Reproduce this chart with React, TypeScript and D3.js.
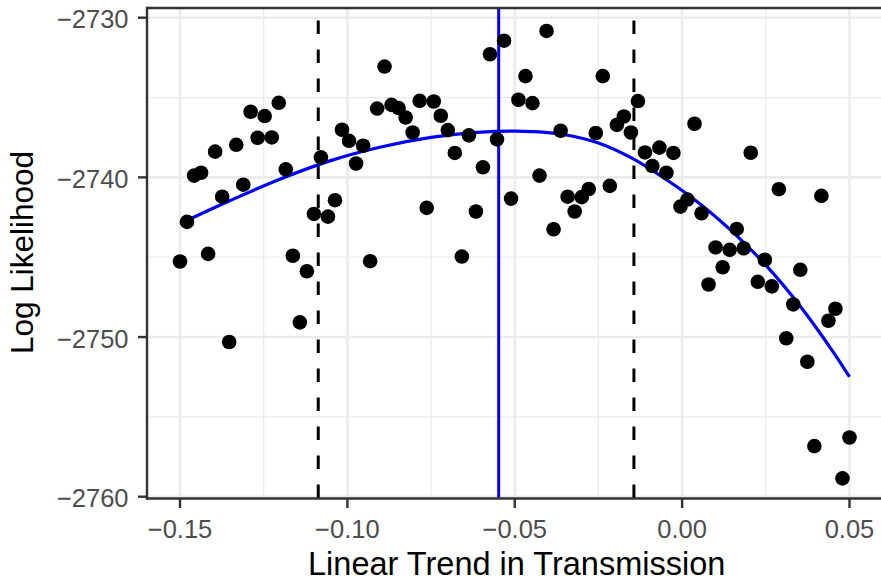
import React from "react";
import * as d3 from "d3";

const xTicks = [-0.15, -0.1, -0.05, 0, 0.05];
const xTickLabels = ["−0.15", "−0.10", "−0.05", "0.00", "0.05"];
const xMinor = [-0.175, -0.125, -0.075, -0.025, 0.025, 0.075];
const yTicks = [-2760, -2750, -2740, -2730];
const yTickLabels = ["−2760", "−2750", "−2740", "−2730"];
const yMinor = [-2755, -2745, -2735, -2725];

const trendX = [
  -0.15, -0.1479, -0.1458, -0.1437, -0.1416, -0.1395, -0.1374, -0.1353, -0.1332, -0.1311,
  -0.1289, -0.1268, -0.1247, -0.1226, -0.1205, -0.1184, -0.1163, -0.1142, -0.1121, -0.11,
  -0.1079, -0.1058, -0.1037, -0.1016, -0.0995, -0.0974, -0.0953, -0.0932, -0.0911, -0.0889,
  -0.0868, -0.0847, -0.0826, -0.0805, -0.0784, -0.0763, -0.0742, -0.0721, -0.07, -0.0679,
  -0.0658, -0.0637, -0.0616, -0.0595, -0.0574, -0.0553, -0.0532, -0.0511, -0.0489, -0.0468,
  -0.0447, -0.0426, -0.0405, -0.0384, -0.0363, -0.0342, -0.0321, -0.03, -0.0279, -0.0258,
  -0.0237, -0.0216, -0.0195, -0.0174, -0.0153, -0.0132, -0.0111, -0.0089, -0.0068, -0.0047,
  -0.0026, -0.0005, 0.0016, 0.0037, 0.0058, 0.0079, 0.01, 0.0121, 0.0142, 0.0163,
  0.0184, 0.0205, 0.0226, 0.0247, 0.0268, 0.0289, 0.0311, 0.0332, 0.0353, 0.0374,
  0.0395, 0.0416, 0.0437, 0.0458, 0.0479, 0.05,
];

const logLik = [
  -2745.27, -2742.79, -2739.89, -2739.71, -2744.79, -2738.39, -2741.21, -2750.31, -2737.96, -2740.46,
  -2735.89, -2737.52, -2736.16, -2737.5, -2735.33, -2739.5, -2744.91, -2749.08, -2745.88, -2742.29,
  -2738.75, -2742.46, -2741.43, -2737.02, -2737.71, -2739.13, -2738.02, -2745.25, -2735.69, -2733.06,
  -2735.46, -2735.66, -2736.25, -2737.19, -2735.21, -2741.91, -2735.25, -2736.14, -2737.04, -2738.47,
  -2744.96, -2737.37, -2742.14, -2739.37, -2732.29, -2737.62, -2731.44, -2741.33, -2735.14, -2733.66,
  -2735.35, -2739.89, -2730.83, -2743.25, -2737.08, -2741.21, -2742.14, -2741.24, -2740.73, -2737.22,
  -2733.66, -2740.53, -2736.71, -2736.19, -2737.19, -2735.22, -2738.44, -2739.29, -2738.14, -2739.71,
  -2738.47, -2741.83, -2741.39, -2736.64, -2742.25, -2746.71, -2744.39, -2745.63, -2744.54, -2743.23,
  -2744.44, -2738.46, -2746.54, -2745.16, -2746.83, -2740.74, -2750.08, -2747.96, -2745.79, -2751.55,
  -2756.83, -2741.16, -2748.98, -2748.23, -2758.85, -2756.29,
];

const smoothX = [-0.15, -0.135, -0.12, -0.105, -0.09, -0.075, -0.06, -0.05, -0.045, -0.036, -0.025, -0.015, -0.005, 0.005, 0.015, 0.025, 0.035, 0.045, 0.05];
const smoothY = [-2742.9, -2741.45, -2740.1, -2738.95, -2738.1, -2737.5, -2737.17, -2737.1, -2737.13, -2737.3, -2737.85, -2738.8, -2740.1, -2741.6, -2743.4, -2745.5, -2748.0, -2750.9, -2752.5];

const ciBounds = [-0.1087, -0.0144];
const mleValue = -0.0548;

const W = 881;
const H = 580;
const panel = { left: 147, right: 886, top: 8, bottom: 498.5 };

export default function App() {
  const x = d3.scaleLinear().domain([-0.15, 0.05]).range([180, 849.5]);
  const y = d3.scaleLinear().domain([-2760, -2730]).range([496.7, 17.7]);

  const line = d3
    .line<number>()
    .x((_, i) => x(smoothX[i]))
    .y((d) => y(d))
    .curve(d3.curveCatmullRom.alpha(0.5));

  const font = "'Liberation Sans', Arial, Helvetica, sans-serif";
  const axisColor = "#333333";

  return (
    <div style={{ position: "fixed", left: 0, top: 0 }}>
      <svg width={W} height={H} style={{ display: "block", background: "#fff" }}>
        <defs>
          <clipPath id="panel">
            <rect x={panel.left} y={panel.top} width={panel.right - panel.left} height={panel.bottom - panel.top} />
          </clipPath>
        </defs>
        <rect x={0} y={0} width={W} height={H} fill="#fff" />
        <g clipPath="url(#panel)">
          {xMinor.map((v) => (
            <line key={"xm" + v} x1={x(v)} x2={x(v)} y1={panel.top} y2={panel.bottom} stroke="#EBEBEB" strokeWidth={1.3} />
          ))}
          {yMinor.map((v) => (
            <line key={"ym" + v} x1={panel.left} x2={panel.right} y1={y(v)} y2={y(v)} stroke="#EBEBEB" strokeWidth={1.3} />
          ))}
          {xTicks.map((v) => (
            <line key={"xg" + v} x1={x(v)} x2={x(v)} y1={panel.top} y2={panel.bottom} stroke="#EBEBEB" strokeWidth={2.6} />
          ))}
          {yTicks.map((v) => (
            <line key={"yg" + v} x1={panel.left} x2={panel.right} y1={y(v)} y2={y(v)} stroke="#EBEBEB" strokeWidth={2.6} />
          ))}
          {ciBounds.map((v) => (
            <line
              key={"ci" + v}
              x1={x(v)}
              x2={x(v)}
              y1={panel.top}
              y2={panel.bottom}
              stroke="#000"
              strokeWidth={3}
              strokeDasharray="13.5 15.5"
              strokeDashoffset={16.5}
            />
          ))}
          <line x1={x(mleValue)} x2={x(mleValue)} y1={panel.top} y2={panel.bottom} stroke="#0000FF" strokeWidth={3} />
          <path d={line(smoothY) || ""} fill="none" stroke="#0000FF" strokeWidth={3.2} strokeLinecap="butt" />
          {logLik.map((v, i) => (
            <circle key={"p" + i} cx={x(trendX[i])} cy={y(v)} r={7.3} fill="#000" />
          ))}
        </g>
        <line x1={panel.left} x2={W} y1={panel.top} y2={panel.top} stroke={axisColor} strokeWidth={2.4} />
        <line x1={panel.left} x2={panel.left} y1={panel.top - 1.2} y2={panel.bottom + 1.2} stroke={axisColor} strokeWidth={2.4} />
        <line x1={panel.left - 1.2} x2={W} y1={panel.bottom} y2={panel.bottom} stroke={axisColor} strokeWidth={2.4} />
        {yTicks.map((v, i) => (
          <g key={"yt" + v}>
            <line x1={panel.left - 9} x2={panel.left} y1={y(v)} y2={y(v)} stroke={axisColor} strokeWidth={2.4} />
            <text x={128.5} y={y(v) + 10.5} textAnchor="end" fontFamily={font} fontSize={25.5} fill="#4D4D4D">
              {yTickLabels[i]}
            </text>
          </g>
        ))}
        {xTicks.map((v, i) => (
          <g key={"xt" + v}>
            <line x1={x(v)} x2={x(v)} y1={panel.bottom} y2={panel.bottom + 9.5} stroke={axisColor} strokeWidth={2.4} />
            <text x={x(v)} y={537.5} textAnchor="middle" fontFamily={font} fontSize={25.5} fill="#4D4D4D">
              {xTickLabels[i]}
            </text>
          </g>
        ))}
        <text x={516.7} y={574.5} textAnchor="middle" fontFamily={font} fontSize={32.5} fill="#000">
          Linear Trend in Transmission
        </text>
        <text
          transform={`translate(33,252.5) rotate(-90)`}
          textAnchor="middle"
          fontFamily={font}
          fontSize={31.5}
          fill="#000"
        >
          Log Likelihood
        </text>
      </svg>
    </div>
  );
}
